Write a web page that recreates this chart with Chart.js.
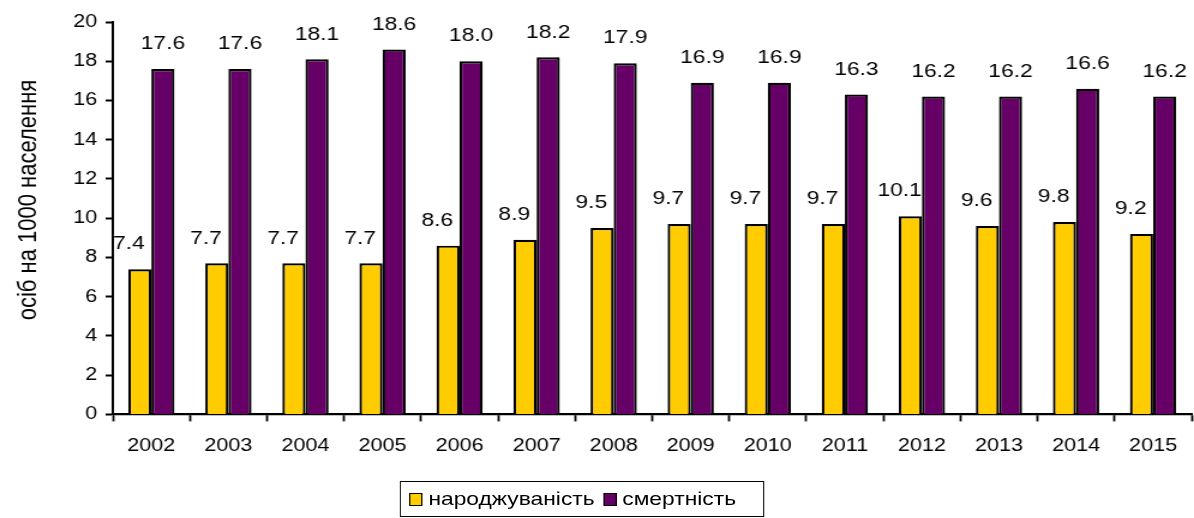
<!DOCTYPE html>
<html lang="uk">
<head>
  <meta charset="UTF-8">
  <title>Народжуваність і смертність</title>
  <script src="https://cdn.jsdelivr.net/npm/chart.js"></script>
  <style>
    body { margin: 0; background: #fff; }
    /* the original picture is stretched sideways, so draw narrower and stretch */
    #wrap {
      position: relative;
      width: 995px;
      height: 518px;
      transform: scaleX(1.2);
      transform-origin: 0 0;
    }
    #legend {
      position: absolute;
      left: 333px;
      top: 481px;
      width: 302px;
      height: 34px;
      border: 1.5px solid #000;
      display: flex;
      align-items: center;
      font-family: "Liberation Sans", Arial, sans-serif;
      font-size: 19px;
      color: #000;
    }
    #legend .box {
      display: inline-block;
      width: 9px;
      height: 11px;
      border: 1.8px solid #000;
      margin: 0 5px 0 7px;
    }
  </style>
</head>
<body>
  <div id="wrap">
    <canvas id="chart"></canvas>
    <div id="legend"></div>
  </div>

  <script>
    const years = ['2002', '2003', '2004', '2005', '2006', '2007', '2008',
                   '2009', '2010', '2011', '2012', '2013', '2014', '2015'];
    const births = [7.4, 7.7, 7.7, 7.7, 8.6, 8.9, 9.5, 9.7, 9.7, 9.7, 10.1, 9.6, 9.8, 9.2];
    const deaths = [17.6, 17.6, 18.1, 18.6, 18.0, 18.2, 17.9, 16.9, 16.9, 16.3, 16.2, 16.2, 16.6, 16.2];
    const seriesNames = ['народжуваність', 'смертність'];
    const seriesColors = ['#FFCC00', '#660066'];
    const yTitle = 'осіб на 1000 населення';

    const FONT = '"Liberation Sans", Arial, sans-serif';

    // value labels over the bars (Excel puts the yellow ones a bit to the left)
    const barLabels = {
      id: 'barLabels',
      afterDatasetsDraw(chart) {
        const ctx = chart.ctx;
        ctx.save();
        ctx.font = '19px ' + FONT;
        ctx.fillStyle = '#000';
        ctx.textAlign = 'center';
        ctx.textBaseline = 'middle';
        chart.data.datasets.forEach((ds, i) => {
          const shift = i === 0 ? -9 : 0;
          chart.getDatasetMeta(i).data.forEach((bar, j) => {
            ctx.fillText(ds.data[j].toFixed(1), bar.x + shift, bar.y - 25);
          });
        });
        ctx.restore();
      }
    };

    // axis title drawn by hand, it sits higher than the middle of the axis
    const yTitlePlugin = {
      id: 'yTitle',
      afterDraw(chart) {
        const ctx = chart.ctx;
        ctx.save();
        ctx.translate(24, 200);
        ctx.rotate(-Math.PI / 2);
        ctx.font = '22px ' + FONT;
        ctx.fillStyle = '#000';
        ctx.textAlign = 'center';
        ctx.textBaseline = 'middle';
        ctx.fillText(yTitle, 0, 0);
        ctx.restore();
      }
    };

    new Chart(document.getElementById('chart'), {
      type: 'bar',
      data: {
        labels: years,
        datasets: [births, deaths].map((d, i) => ({
          label: seriesNames[i],
          data: d,
          backgroundColor: seriesColors[i],
          borderColor: '#000',
          borderWidth: 2.2,
          categoryPercentage: 0.6,
          barPercentage: 1.0
        }))
      },
      options: {
        responsive: true,
        maintainAspectRatio: false,
        animation: false,
        events: [],
        layout: { padding: { top: 22, right: 2, bottom: 47, left: 0 } },
        plugins: {
          legend: { display: false },
          tooltip: { enabled: false }
        },
        scales: {
          x: {
            grid: {
              offset: true,
              drawOnChartArea: false,
              color: '#000',
              tickColor: '#000',
              tickLength: 7,
              tickWidth: 1.8
            },
            border: { display: true, color: '#000', width: 2.2 },
            ticks: {
              color: '#000',
              font: { family: FONT, size: 18 },
              padding: 14,
              maxRotation: 0
            }
          },
          y: {
            min: 0,
            max: 20,
            afterFit(scale) { scale.width = 94; },
            grid: {
              drawOnChartArea: false,
              color: '#000',
              tickColor: '#000',
              tickLength: 6,
              tickWidth: 2
            },
            border: { display: true, color: '#000', width: 2 },
            ticks: {
              stepSize: 2,
              color: '#000',
              font: { family: FONT, size: 18 },
              padding: 7
            }
          }
        }
      },
      plugins: [barLabels, yTitlePlugin]
    });

    // legend in a framed box under the chart
    const legend = document.getElementById('legend');
    seriesNames.forEach((name, i) => {
      const box = document.createElement('span');
      box.className = 'box';
      box.style.background = seriesColors[i];
      legend.appendChild(box);
      legend.appendChild(document.createTextNode(name));
    });
  </script>
</body>
</html>
